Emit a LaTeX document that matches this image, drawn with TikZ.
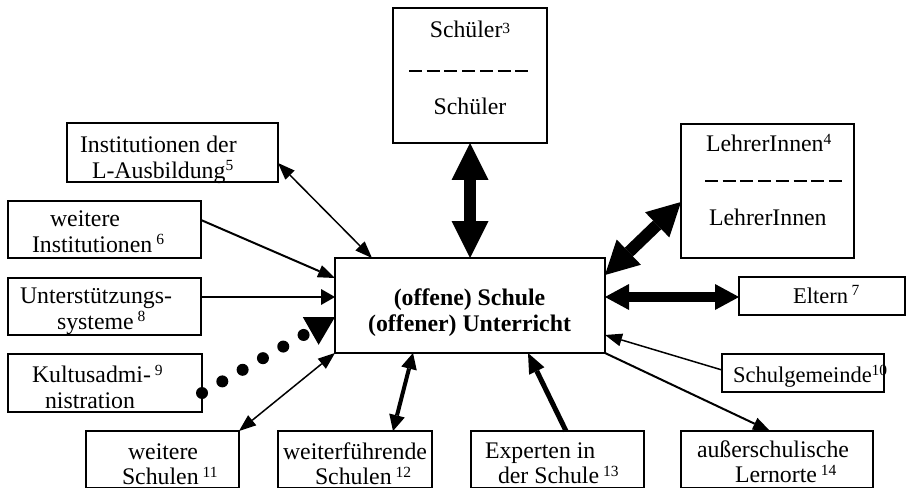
\documentclass[tikz,border=0pt]{standalone}
\usepackage{fontspec}
\setmainfont{Liberation Serif}
\usetikzlibrary{arrows.meta,calc}

% raised footnote numbers
\newcommand\nsup[2][7.5pt]{\raisebox{#1}{\fontsize{15.5}{15.5}\selectfont #2}}

\tikzset{
  HeadS/.tip={Triangle[length=17pt,width=13pt,line width=0pt]},
  HeadU/.tip={Triangle[length=14pt,width=16pt,line width=0pt]},
  HeadM/.tip={Triangle[length=16pt,width=16pt,line width=0pt]},
  HeadE/.tip={Triangle[length=20pt,width=17pt,line width=0pt]},
  HeadB/.tip={Triangle[length=37pt,width=37pt,line width=0pt]},
  HeadL/.tip={Triangle[length=33pt,width=35pt,line width=0pt]},
  HeadP/.tip={Triangle[length=24pt,width=26pt,line width=0pt]},
  HeadD/.tip={Triangle[length=28pt,width=32pt,line width=0pt]},
  frame/.style={draw, line width=1.5pt, inner sep=0pt, outer sep=0pt},
  mainframe/.style={draw, line width=2.6pt, inner sep=0pt, outer sep=0pt},
  txt/.style={inner sep=0pt, outer sep=0pt, align=left, anchor=north west,
              font=\fontsize{23.8}{25.5}\selectfont},
  txtc/.style={txt, align=center, anchor=north},
  divider/.style={line width=1.2pt, dash pattern=on 13pt off 4.7pt},
  thinlink/.style={line width=1.5pt},
  midlink/.style={line width=2pt},
  heavylink/.style={line width=12.5pt},
  dotlink/.style={line width=12pt, line cap=round, dash pattern=on 0pt off 23.4pt, -HeadD},
}

\begin{document}
\begin{tikzpicture}[x=1pt,y=-1pt]
\useasboundingbox (0,0) rectangle (907,489);

% ---------- boxes ----------
\node[mainframe, minimum width=270pt, minimum height=95pt] (school) at (470,305.5) {};
\node[frame, minimum width=154pt, minimum height=135pt] (schueler) at (470,75.5) {};
\node[frame, minimum width=173pt, minimum height=134pt] (lehrer) at (767.5,191) {};
\node[frame, minimum width=166pt, minimum height=38pt] (eltern) at (822,296) {};
\node[frame, minimum width=162pt, minimum height=38pt] (sg) at (803,373) {};
\node[frame, minimum width=192pt, minimum height=56.5pt] (lernorte) at (777,459.25) {};
\node[frame, minimum width=173pt, minimum height=56.5pt] (experten) at (557.5,459.25) {};
\node[frame, minimum width=154pt, minimum height=56.5pt] (weiterf) at (355,459.25) {};
\node[frame, minimum width=153pt, minimum height=56.5pt] (wschulen) at (162.5,459.25) {};
\node[frame, minimum width=194pt, minimum height=58pt] (kultus) at (105,383) {};
\node[frame, minimum width=193pt, minimum height=57pt] (unter) at (104.5,306.5) {};
\node[frame, minimum width=193pt, minimum height=57pt] (winst) at (104.5,229.5) {};
\node[frame, minimum width=211pt, minimum height=59pt] (inst) at (172.5,152.5) {};

% ---------- texts ----------
\node[txtc, font=\fontsize{23.8}{26.5}\selectfont\bfseries] (school-t) at (469.5,286.45)
  {\strut(offene) Schule\\(offener) Unterricht};
\node[txtc] (schueler-t1) at (470,20.15) {\strut Schüler\nsup[4pt]{3}};
\node[txtc] (schueler-t2) at (470,97.15) {\strut Schüler};
\draw[divider] ($(schueler.west)+(16,-4.5)$) -- ($(schueler.east)+(-19,-4.5)$);
\node[txt] (lehrer-t1) at (706,134.15) {\strut LehrerInnen\nsup{4}};
\node[txt] (lehrer-t2) at (709,208.15) {\strut LehrerInnen};
\draw[divider] ($(lehrer.west)+(24,-10)$) -- ($(lehrer.east)+(-12,-10)$);
\node[txt, font=\fontsize{22.5}{25.5}\selectfont] (eltern-t) at (793,285.45) {\strut Eltern\,\nsup{7}};
\node[txt, font=\fontsize{22.5}{25.5}\selectfont] (sg-t) at (733,364.85) {\strut Schulgemeinde\nsup{10}};
\node[txt] (lernorte-t) at (697,439.45) {\strut außerschulische\\\hspace*{38pt}Lernorte\,\nsup{14}};
\node[txt] (experten-t) at (485,440.45) {\strut Experten in\\\hspace*{13pt}der Schule\,\nsup{13}};
\node[txt] (weiterf-t) at (283,441.45) {\strut weiterführende\\\hspace*{32pt}Schulen\,\nsup{12}};
\node[txt] (wschulen-t) at (122,441.45) {\strut\hspace*{6pt}weitere\\Schulen\,\nsup{11}};
\node[txt] (kultus-t) at (32,364.85) {\strut Kultusadmi-\,\nsup{9}\\\hspace*{13pt}nistration};
\node[txt] (unter-t) at (20,285.65) {\strut Unterstützungs-\\\hspace*{37pt}systeme\,\nsup{8}};
\node[txt] (winst-t) at (32,208.85) {\strut\hspace*{18pt}weitere\\Institutionen\,\nsup{6}};
\node[txt] (inst-t) at (80,134.85) {\strut Institutionen der\\\hspace*{12pt}L-Ausbildung\nsup{5}};

% ---------- connectors ----------
\draw[heavylink, line width=12.7pt, HeadB-HeadB] (schueler.south) -- (school.north);
\draw[heavylink, line width=12pt, HeadL-HeadL] ($(lehrer.west)+(0,11)$) -- ($(school.east)+(0,-30.5)$);
\coordinate (e-in) at ($(eltern.west)+(0,1)$);
\draw[heavylink, line width=10pt, HeadP-HeadP] (e-in -| school.east) -- (e-in);
\draw[thinlink, -HeadS] ($(sg.west)+(0,-3)$) -- ($(school.east)+(0,29.5)$);
\draw[midlink, -HeadS] (school.south east) -- ($(lernorte.north)+(-7,0)$);
\draw[line width=5pt, -HeadE] ($(experten.north)+(8.5,0)$) -- ($(school.south)+(58,0)$);
\draw[line width=4pt, HeadM-HeadM] ($(weiterf.north)+(38,0)$) -- ($(school.south)+(-57,0)$);
\draw[thinlink, HeadS-HeadS] (wschulen.north east) -- (school.south west);
\draw[dotlink] ($(kultus.east)+(0,10)$) -- ($(school.west)+(0,11.5)$);
\coordinate (u-out) at ($(unter.east)+(0,-9.5)$);
\draw[midlink, line width=2.2pt, -HeadU] (u-out) -- (u-out -| school.west);
\draw[midlink, -HeadS] ($(winst.east)+(0,-9.5)$) -- ($(school.north west)+(0,20)$);
\draw[thinlink, HeadS-HeadS] ($(inst.east)+(0,10.5)$) -- ($(school.north west)+(37,0)$);
\end{tikzpicture}
\end{document}
